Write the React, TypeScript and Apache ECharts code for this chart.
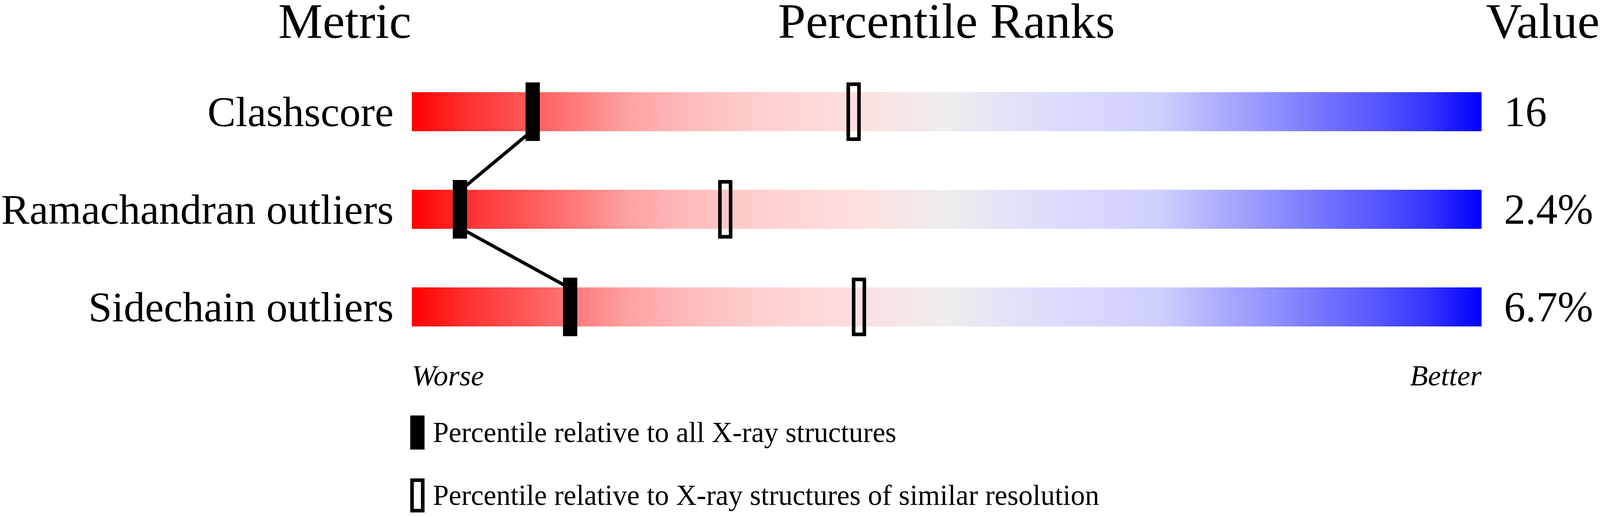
import React, { useEffect, useRef, useState } from "react";
import * as echarts from "echarts";

// ---- data ----
const metrics = ["Clashscore", "Ramachandran outliers", "Sidechain outliers"];
const valueLabels = ["16", "2.4%", "6.7%"];
const percentileAll = [11.3, 4.5, 14.8];
const percentileSimilar = [41.3, 29.3, 41.8];
const scaleLabels = ["Worse", "Better"];
const headers = ["Metric", "Percentile Ranks", "Value"];
const legendLabels = [
  "Percentile relative to all X-ray structures",
  "Percentile relative to X-ray structures of similar resolution",
];

const FONT = "'Liberation Serif', 'Times New Roman', Times, serif";
const W = 4485;
const H = 1324;
const CENTRAL = 0.3375; // distance of the "central" baseline above the alphabetic one, in em

const gradientStops = [
  [0, "#ff0000"],
  [0.05, "#ff3030"],
  [0.1, "#ff5252"],
  [0.15, "#ff7878"],
  [0.2, "#ffa0a0"],
  [0.25, "#ffb8b8"],
  [0.3, "#ffc8c8"],
  [0.35, "#ffd4d4"],
  [0.4, "#ffdcdc"],
  [0.45, "#f7e5e5"],
  [0.5, "#eeeeee"],
  [0.55, "#e4e4f6"],
  [0.6, "#dcdcff"],
  [0.65, "#d6d6ff"],
  [0.7, "#cfcfff"],
  [0.75, "#b0b0ff"],
  [0.8, "#9494ff"],
  [0.85, "#7575ff"],
  [0.9, "#5858ff"],
  [0.95, "#3434ff"],
  [1, "#0000ff"],
];

function buildOption(sx: number, sy: number) {
  const X = (v: number) => v * sx;
  const Y = (v: number) => v * sy;
  const F = (v: number) => v * sx;

  const segments: number[][] = [];
  for (let i = 0; i < percentileAll.length - 1; i++) {
    segments.push([percentileAll[i], i, percentileAll[i + 1], i + 1]);
  }

  const lw = X(10);
  const markerRender = (hollow: boolean) => (params: any, api: any) => {
    const p = api.coord([api.value(0), api.value(1)]);
    const ww = hollow ? X(40) - lw : X(40);
    const hh = hollow ? Y(150) - lw : Y(150);
    return {
      type: "rect",
      shape: { x: p[0] - ww / 2, y: p[1] - hh / 2, width: ww, height: hh },
      style: hollow
        ? { fill: "none", stroke: "#000", lineWidth: lw }
        : { fill: "#000" },
    };
  };

  const headFs = F(140);
  const headY = Y(97) - CENTRAL * headFs;
  const headerStyle = (text: string, align: string) => ({
    text,
    fontFamily: FONT,
    fontSize: headFs,
    fill: "#000",
    align,
    verticalAlign: "middle",
  });

  const rowFs = F(119);
  const valFs = F(120);
  const rowShift = (fs: number) => 2 * (Y(49) - CENTRAL * fs);
  const scaleFs = F(82);
  const legFs = F(80);
  const legShift = 2 * (Y(1144) - Y(1105) - CENTRAL * legFs);

  return {
    animation: false,
    backgroundColor: "#ffffff",
    grid: { left: X(1153), top: Y(161), width: X(3000), height: Y(750) },
    xAxis: {
      type: "value",
      min: 0,
      max: 100,
      interval: 100,
      axisLine: { show: false },
      axisTick: { show: false },
      splitLine: { show: false },
      axisLabel: {
        formatter: (v: number) =>
          v === 0 ? scaleLabels[0] : v === 100 ? scaleLabels[1] : "",
        alignMinLabel: "left",
        alignMaxLabel: "right",
        fontFamily: FONT,
        fontStyle: "italic",
        fontSize: scaleFs,
        color: "#000",
        margin: Y(987) - Y(911) - 0.8375 * scaleFs,
      },
    },
    yAxis: [
      {
        type: "category",
        data: metrics,
        inverse: true,
        axisLine: { show: false },
        axisTick: { show: false },
        splitLine: { show: false },
        axisLabel: {
          fontFamily: FONT,
          fontSize: rowFs,
          color: "#000",
          margin: X(51),
          padding: [rowShift(rowFs), 0, 0, 0],
        },
      },
      {
        type: "category",
        data: valueLabels,
        inverse: true,
        position: "right",
        axisLine: { show: false },
        axisTick: { show: false },
        splitLine: { show: false },
        axisLabel: {
          fontFamily: FONT,
          fontSize: valFs,
          color: "#000",
          margin: X(63),
          padding: [rowShift(valFs), 0, 0, 0],
        },
      },
    ],
    legend: {
      orient: "vertical",
      left: X(1150),
      top: Y(1064),
      padding: 0,
      itemWidth: X(30),
      itemHeight: Y(78),
      itemGap: Y(74),
      icon: "rect",
      selectedMode: false,
      textStyle: {
        fontFamily: FONT,
        fontSize: legFs,
        color: "#000",
        padding: [legShift, 0, 0, X(23)],
      },
      data: [
        {
          name: legendLabels[0],
          itemStyle: { color: "#000", borderColor: "#000", borderWidth: lw },
        },
        {
          name: legendLabels[1],
          itemStyle: {
            color: "rgba(0,0,0,0)",
            borderColor: "#000",
            borderWidth: lw,
          },
        },
      ],
    },
    graphic: [
      { type: "text", x: X(1153), y: headY, style: headerStyle(headers[0], "right") },
      { type: "text", x: X(2653), y: headY, style: headerStyle(headers[1], "center") },
      { type: "text", x: X(4484), y: headY, style: headerStyle(headers[2], "right") },
    ],
    series: [
      {
        type: "bar",
        data: metrics.map(() => 100),
        barWidth: Y(100),
        silent: true,
        z: 1,
        itemStyle: {
          color: {
            type: "linear",
            x: 0,
            y: 0,
            x2: 1,
            y2: 0,
            colorStops: gradientStops.map(([offset, color]) => ({ offset, color })),
          },
        },
      },
      {
        type: "custom",
        silent: true,
        z: 2,
        data: segments,
        encode: { x: [0, 2], y: [1, 3] },
        renderItem: (params: any, api: any) => {
          const p1 = api.coord([api.value(0), api.value(1)]);
          const p2 = api.coord([api.value(2), api.value(3)]);
          const h = api.size([0, 1])[1] * 0.19;
          return {
            type: "line",
            shape: { x1: p1[0], y1: p1[1] + h, x2: p2[0], y2: p2[1] - h },
            style: { stroke: "#000", lineWidth: 9 * (sx + sy) / 2 },
          };
        },
      },
      {
        type: "custom",
        name: legendLabels[0],
        silent: true,
        z: 3,
        itemStyle: { color: "#000" },
        encode: { x: 0, y: 1 },
        data: percentileAll.map((p, i) => [p, i]),
        renderItem: markerRender(false),
      },
      {
        type: "custom",
        name: legendLabels[1],
        silent: true,
        z: 3,
        itemStyle: { color: "#000" },
        encode: { x: 0, y: 1 },
        data: percentileSimilar.map((p, i) => [p, i]),
        renderItem: markerRender(true),
      },
    ],
  };
}

export default function App() {
  const ref = useRef<HTMLDivElement>(null);
  const [size] = useState(() => {
    const vw = window.innerWidth || W;
    const vh = window.innerHeight || H;
    return { sx: vw / W, sy: vh / H, w: vw, h: vh };
  });

  useEffect(() => {
    if (!ref.current) return;
    document.body.style.margin = "0";
    const chart = echarts.init(ref.current, null, { renderer: "svg" });
    chart.setOption(buildOption(size.sx, size.sy) as any);
    return () => chart.dispose();
  }, [size]);

  return (
    <div
      ref={ref}
      style={{
        position: "absolute",
        left: 0,
        top: 0,
        width: size.w,
        height: size.h,
        background: "#fff",
      }}
    />
  );
}
